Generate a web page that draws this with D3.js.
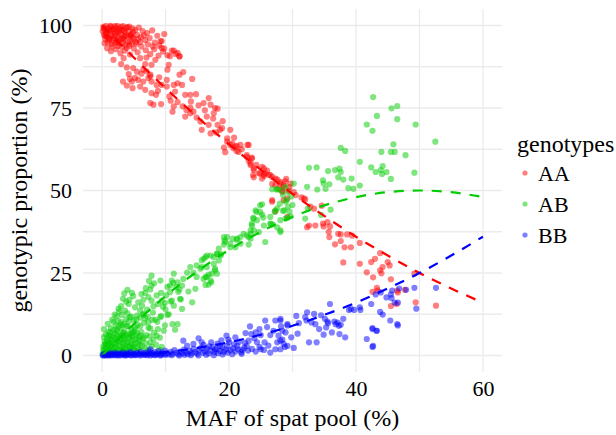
<!DOCTYPE html>
<html>
<head>
<meta charset="utf-8">
<script src="https://cdn.jsdelivr.net/npm/d3@7"></script>
<style>
  body { margin: 0; background: #fff; }
</style>
</head>
<body>
<div id="chart"></div>
<script>
// observed genotype proportions per sample: [MAF of spat pool (%), proportion (%)]
const aaPoints = [
  [0.2,99.6],[0.4,98.8],[0.6,99.9],[0.8,97.9],[1.0,99.2],[1.2,98.4],[1.4,99.7],[1.6,96.9],[1.8,98.9],[2.0,97.6],[2.2,99.4],[2.4,98.1],[2.6,96.4],[2.8,99.0],[3.0,97.3],[3.2,98.6],[3.4,95.8],[3.6,97.9],[3.8,99.3],[4.0,96.7],[4.2,98.2],[4.4,95.2],[4.6,97.4],[4.8,99.1],[5.0,96.0],
  [0.3,97.2],[0.5,95.9],[0.7,96.6],[0.9,94.8],[1.1,95.6],[1.3,97.0],[1.5,94.3],[1.7,95.4],[1.9,96.1],[2.1,94.7],[2.3,95.5],[2.5,93.8],[2.7,94.6],[2.9,95.9],[3.1,93.5],[3.3,94.9],[3.5,96.6],[3.7,94.1],[3.9,93.2],[4.1,95.0],[4.3,93.9],[4.5,96.8],[4.7,94.4],[4.9,98.0],
  [0.1,98.3],[0.6,97.5],[1.0,96.3],[1.5,98.7],[2.0,99.8],[2.6,97.8],[3.0,99.6],[3.5,98.4],[4.0,99.5],[4.5,97.1],[5.2,98.6],[5.5,97.2],[5.8,99.4],[6.1,96.5],[6.4,98.3],[6.8,95.6],[7.1,97.7],[7.5,96.2],[7.9,98.5],[8.3,94.8],[8.7,96.9],[9.0,93.9],[9.4,95.3],[9.8,97.4],
  [0.3,99.1],[0.9,98.6],[1.3,99.9],[1.9,98.3],[2.4,99.9],[2.7,98.5],[3.3,99.8],[3.7,96.9],[4.3,99.7],[4.8,96.3],[5.3,95.0],[5.7,95.9],[0.5,96.9],[1.2,96.0],[2.1,96.9],[3.2,96.0],[0.4,94.6],[1.6,93.6],[2.4,95.0],[6.6,97.0],
  [0.8,93.1],[1.4,92.2],[2.2,92.8],[2.9,91.6],[3.6,92.4],[4.4,91.2],[5.0,93.0],[5.6,91.9],[6.2,93.6],[6.9,92.5],[7.6,91.3],[8.2,92.8],[8.9,90.9],[9.6,92.1],[10.3,91.0],[11.0,92.4],[11.6,91.4],[12.2,90.6],
  [1.8,89.6],[3.0,88.3],[3.4,90.1],[3.9,87.3],[4.9,87.1],[6.0,90.1],[6.5,86.6],[6.8,88.3],[7.0,90.3],[7.8,88.1],[8.4,89.6],[9.2,95.2],[9.4,93.2],[9.8,93.0],[10.5,88.1],[10.3,86.6],[10.7,90.7],[11.3,92.4],[11.9,91.7],[12.2,90.7],[5.4,94.5],[6.0,95.0],[7.2,94.3],[8.0,93.7],
  [4.2,85.3],[4.4,83.8],[5.2,84.1],[4.7,83.0],[5.7,83.5],[3.3,83.0],[3.9,81.8],[4.8,81.0],[6.5,83.0],[6.0,81.5],[6.8,80.5],[7.0,86.1],[7.6,85.1],[7.3,84.1],[7.6,84.6],[7.8,83.0],[8.6,82.0],[9.4,82.0],[10.2,83.5],[10.2,81.5],[11.3,82.0],[11.9,82.5],[12.6,82.0],[12.8,85.9],[12.2,85.1],[14.2,83.8],
  [7.8,79.5],[8.5,79.0],[7.6,76.5],[8.1,76.0],[9.3,76.2],[10.6,78.5],[10.8,77.2],[11.3,75.5],[11.9,76.8],[12.7,75.5],[13.1,79.0],[13.9,79.0],[14.8,79.2],[13.3,74.4],[13.9,73.4],[13.1,72.4],[14.4,73.9],[14.9,72.1],[13.9,75.1],[11.1,73.9],[15.5,70.9],[16.0,76.5],[16.8,78.0],[17.1,76.0],[17.8,75.0],[18.2,74.8],[17.6,73.4],[16.5,72.4],[16.8,69.9],[15.7,68.4],[17.1,67.3],[18.0,67.6],[18.6,68.4],[18.2,69.9],[18.9,68.9],[20.2,68.4],[19.7,65.8],[20.5,64.3],[21.0,63.3],[21.5,61.7],[21.8,63.8],[22.9,63.8],[19.2,63.0],[19.4,61.6],[22.8,60.2],[23.6,59.7],[23.4,58.2],[23.9,56.7],[23.8,54.7],[24.7,55.2],[25.5,56.7],[25.5,54.9],[25.2,53.6],[26.5,54.7],[27.3,53.6],[28.1,52.6],
  [5.5,86.0],[6.2,85.4],[9.0,84.3],[8.8,80.2],[11.5,80.0],[14.0,77.0],[15.2,75.8],[16.2,74.3],[19.0,71.0],[17.5,71.8],[20.8,66.0],[22.0,62.5],[24.3,57.8],[26.0,56.0],[26.8,52.0],
  [19.7,64.8],[20.2,63.8],[21.2,63.5],[23.1,63.8],[20.7,62.8],[21.2,62.0],[22.8,60.7],[23.6,60.0],[23.1,59.0],[23.4,57.7],[23.9,56.2],[25.2,57.2],[25.7,55.2],[24.9,55.2],[26.3,54.7],[26.8,54.1],[23.9,54.0],[25.5,54.4],[27.6,53.3],[28.1,52.1],[27.8,50.6],[28.6,51.6],[29.7,52.1],[27.3,51.6],[29.4,49.9],[28.4,49.9],[26.8,46.6],[30.5,48.6],[31.4,47.9],[32.0,47.3],[28.6,47.1],[32.8,45.1],
  [26.8,47.1],[29.2,47.6],[28.4,49.6],[29.2,42.0],[27.3,43.7],[28.6,51.1],[28.9,52.8],[29.5,51.0],[29.0,53.5],
  [30.2,49.5],[31.8,47.6],[34.6,45.4],[33.4,44.5],[32.3,38.9],[32.6,39.4],[33.6,39.4],[34.8,40.0],[34.9,39.1],[35.5,40.4],[35.9,39.1],[35.7,37.5],[35.8,35.9],[37.2,36.9],[37.6,36.7],[38.6,36.7],[39.4,36.3],[37.6,34.7],[36.7,33.7],[38.2,32.8],[39.2,32.8],[40.6,34.1],[38.0,28.2],[40.6,27.8],[41.7,25.2],[42.4,28.3],[43.0,29.3],[43.8,31.0],[44.2,26.8],[43.8,25.8],[45.0,28.3],[45.3,27.3],[44.0,24.9],[42.7,23.7],[45.5,23.1],[46.5,19.7],[43.4,19.7],[43.3,20.5],[42.6,19.3],[46.6,19.1],[49.2,24.8],[49.4,16.1],[52.6,15.1],[45.5,15.0],[46.4,15.6],[47.7,19.9]
];

const abPoints = [
  [0.1,0.6],[0.3,1.4],[0.5,2.3],[0.7,0.9],[0.9,3.1],[1.1,1.8],[1.3,4.0],[1.5,2.6],[1.7,0.8],[1.9,3.6],[2.1,5.1],[2.3,1.5],[2.5,4.4],[2.7,2.9],[2.9,6.0],[3.1,1.2],[3.3,3.8],[3.5,5.4],[3.7,2.2],[3.9,6.6],[4.1,4.1],[4.3,1.9],[4.5,5.8],[4.7,3.3],[4.9,7.2],[5.1,2.7],[5.3,5.0],[5.5,6.9],[5.7,3.9],[5.9,1.6],
  [0.2,2.8],[0.4,4.2],[0.6,3.6],[0.8,5.3],[1.0,1.1],[1.2,2.9],[1.4,5.9],[1.6,4.6],[1.8,2.1],[2.0,6.6],[2.2,3.4],[2.4,7.4],[2.6,0.7],[2.8,4.0],[3.0,8.2],[3.2,2.6],[3.4,7.0],[3.6,4.8],[3.8,1.0],[4.0,8.9],[4.2,3.0],[4.4,6.4],[4.6,8.0],[4.8,2.4],[5.0,4.6],[5.2,8.6],[5.4,1.3],[5.6,9.3],[5.8,5.6],[6.0,3.2],
  [0.2,1.9],[0.4,0.5],[0.5,3.4],[0.7,2.0],[0.8,4.4],[1.0,3.8],[1.2,0.6],[1.3,5.0],[1.5,1.5],[1.6,3.2],[1.8,5.7],[2.0,1.0],[2.1,2.6],[2.3,4.6],[2.4,6.1],[2.6,2.0],[2.8,5.5],[2.9,1.6],[3.1,4.7],[3.2,6.3],[3.4,2.0],[3.5,3.0],[3.7,6.0],[3.9,3.7],[4.0,1.4],[4.2,5.3],[4.4,2.6],[4.6,4.5],[4.8,6.0],[5.0,1.7],[5.2,3.6],[5.4,6.2],[5.6,2.3],[5.9,4.5],[6.1,6.0],[6.3,2.9],[6.6,5.4],[6.9,3.7],[7.2,1.6],[7.5,5.8],[7.8,2.8],[8.1,4.9],[8.6,6.0],[9.0,1.8],[0.3,8.0],[1.1,6.0],[2.5,10.5],[4.0,12.8],[5.4,10.9],[6.0,11.5],
  [0.3,5.6],[0.6,6.4],[1.0,7.1],[1.4,8.3],[1.8,7.7],[2.2,9.2],[2.6,8.8],[3.0,10.1],[3.4,9.6],[3.8,11.0],[4.2,10.3],[4.6,11.8],[5.0,10.6],[6.2,7.1],[6.4,4.9],[6.6,9.9],[6.8,2.1],[7.0,6.2],[7.3,8.4],[7.6,4.0],[7.9,10.8],[8.2,6.9],[8.5,3.3],[8.8,8.0],[9.1,5.4],[9.4,2.6],[9.7,7.5],[6.5,12.6],[7.2,11.7],[8.0,13.0],[8.7,10.2],[9.3,12.0],[0.9,9.6],[1.6,10.9],[2.0,12.4],[2.7,13.3],
  [7.8,24.2],[9.2,22.7],[7.8,21.2],[7.6,20.0],[6.8,19.0],[7.3,17.7],[6.5,16.9],[7.8,16.6],[8.6,18.2],[9.3,19.0],[9.4,16.6],[8.1,14.9],[7.1,13.9],[6.3,15.1],[4.7,19.0],[4.9,18.0],[4.3,16.9],[3.8,16.3],[3.3,17.2],[4.2,15.6],[5.2,14.6],[5.7,16.1],[6.0,13.6],[6.5,12.3],[3.6,13.6],[3.1,12.3],[4.4,11.6],[5.5,12.1],[6.8,11.3],[7.3,10.0],[8.4,10.9],[9.2,11.6],[9.9,9.1],[11.1,9.5],[11.9,9.5],[11.5,7.8],[7.6,8.2],[6.0,8.8],[5.2,7.8],[3.9,8.8],[3.1,9.2],[1.8,10.2],[2.3,7.8],[3.4,7.0],[4.7,6.8],[1.3,7.0],
  [3.5,18.8],[4.0,19.9],[3.0,15.0],[2.6,14.2],[2.3,11.9],[6.2,18.6],[6.9,20.4],[7.4,22.6],[8.2,21.9],[10.3,20.8],[11.2,22.0],[12.0,19.3],[12.4,17.0],[10.8,16.4],[10.0,14.0],[10.5,12.5],[9.6,14.8],[8.8,15.6],
  [13.4,25.1],[12.8,23.2],[12.6,21.2],[11.9,22.2],[11.3,24.8],[11.0,22.7],[10.7,21.2],[11.7,20.7],[12.2,20.0],[10.7,19.2],[10.1,18.2],[9.9,15.9],[11.0,16.6],[11.3,15.1],[12.3,17.2],[14.2,16.1],[14.7,20.2],[13.6,19.4],[12.6,14.1],[10.3,12.3],
  [18.1,30.8],[18.7,30.3],[18.4,28.8],[17.1,30.3],[16.3,29.8],[15.7,28.8],[14.9,27.3],[15.5,26.3],[13.9,26.8],[14.4,25.1],[14.9,23.8],[16.3,23.8],[16.8,24.5],[17.8,25.8],[18.1,24.8],[16.3,21.4],[17.2,22.2],
  [23.6,39.4],[23.4,37.9],[22.8,36.4],[23.4,35.4],[23.1,33.6],[21.8,35.9],[21.3,35.4],[19.7,35.9],[19.4,34.4],[20.2,32.8],[19.2,33.6],[25.7,34.4],
  [26.8,50.4],[27.6,50.4],[28.0,46.0],[28.7,44.0],[27.3,44.0],[29.2,41.7],[28.1,37.4],[26.9,39.7],[26.5,40.0],[25.5,39.4],[25.2,42.7],[24.3,43.5],[23.8,41.7],[24.9,45.5],[24.2,44.0],
  [28.9,51.1],[28.1,50.1],[27.5,50.3],[29.3,49.6],[28.5,48.6],[29.1,47.1],[28.5,43.8],[27.2,43.5],[27.6,44.6],[29.3,45.1],[29.7,42.2],[28.9,41.5],[28.1,41.0],[28.1,37.9],[27.6,38.8],[26.6,39.8],[26.5,42.0],[25.2,45.8],[24.9,43.5],[25.4,41.8],[23.9,41.5],[24.4,41.0],[23.6,40.0],[23.9,37.9],[24.7,37.4],[23.4,36.9],[23.1,35.9],[22.3,36.9],[21.8,33.9],[21.2,35.1],[20.6,35.4],[21.0,32.8],[20.2,33.9],[19.3,34.9],[19.2,35.9],[18.4,32.4],[18.7,30.8],[18.1,30.8],[17.6,29.8],[16.5,30.3],[16.0,29.3],[15.7,26.8],[16.5,26.8],[17.6,27.8],[17.8,26.3],[17.3,24.8],[16.5,23.8],[17.1,22.7],[16.0,23.2],[16.8,21.5],
  [42.7,78.3],[45.6,74.9],[46.5,75.6],[43.3,72.6],[46.5,71.6],[41.7,70.0],[49.4,70.0],[42.6,68.1],[52.5,64.8],[45.9,64.0],[37.6,62.9],[38.3,62.0],[44.0,61.7],[45.5,61.7],[46.1,61.7],[47.8,60.7],[40.6,58.7],[42.4,57.0],[44.2,57.4],[43.1,55.6],[43.9,56.2],[44.8,55.6],[44.1,55.0],[45.5,53.5],[49.2,55.4],[32.6,56.9],[33.8,57.0],[35.6,55.9],[36.7,56.2],[37.4,56.6],[37.6,55.6],[37.2,54.0],[38.0,53.3],[39.3,53.6],[34.8,53.1],[34.9,52.1],[35.8,51.9],[35.2,50.5],[33.9,50.3],[38.8,50.7],[39.6,50.5],[40.6,51.5],[32.3,51.1],[30.2,52.1],[36.0,44.2],[34.5,42.6],[32.4,44.5],[32.0,41.5],
  [29.8,48.2],[30.0,45.6],[28.9,46.7],[29.5,43.6]
];

const bbPoints = [
  [0.1,0.1],[0.3,0.4],[0.5,0.2],[0.7,0.6],[0.9,0.1],[1.1,0.3],[1.3,0.7],[1.5,0.2],[1.7,0.5],[1.9,0.1],[2.1,0.8],[2.3,0.3],[2.5,0.5],[2.7,0.1],[2.9,0.6],[3.1,0.3],[3.3,0.9],[3.5,0.2],[3.7,0.5],[3.9,0.1],[4.1,0.7],[4.3,0.3],[4.5,1.0],[4.7,0.2],[4.9,0.6],[5.1,0.4],[5.3,0.1],[5.5,0.8],[5.7,0.3],[5.9,0.5],[6.1,1.1],[6.3,0.2],[6.5,0.6],[6.7,0.3],[6.9,0.9],[7.1,0.1],[7.3,0.5],[7.5,1.2],[7.7,0.4],[7.9,0.7],[8.1,0.2],[8.3,1.0],[8.5,0.5],[8.7,0.3],[8.9,1.3],[9.1,0.6],[9.3,0.2],[9.5,0.9],[9.7,0.4],[9.9,1.5],
  [10.2,0.7],[10.5,0.3],[10.8,1.1],[11.1,0.5],[11.4,1.6],[11.7,0.8],[12.0,0.3],[12.3,1.2],[12.6,0.6],[12.9,1.8],[13.2,0.9],[13.5,0.4],[13.8,1.4],[14.1,0.7],[14.4,2.0],[14.7,1.0],[15.0,0.5],[15.3,1.6],[15.6,2.3],[15.9,0.8],[16.2,1.3],[16.5,2.1],[16.8,0.6],[17.1,1.5],[17.4,2.6],[17.7,1.0],[18.0,1.9],[18.3,0.7],[18.6,1.4],[18.9,2.4],[19.2,1.1],[19.5,1.8],[19.8,0.9],[20.2,1.6],[20.6,2.2],[21.0,1.2],[21.4,1.9],[21.9,1.0],[22.4,2.3],[23.0,1.5],[23.6,2.0],[24.2,1.2],[24.8,2.6],[25.5,1.7],
  [0.2,0.0],[0.6,0.0],[1.0,0.1],[1.4,0.0],[2.0,0.2],[2.4,0.0],[3.0,0.1],[3.6,0.0],[4.0,0.3],[4.6,0.0],[5.2,0.2],[6.0,0.0],[6.8,0.2],[7.6,0.0],[8.4,0.1],[9.2,0.0],[10.0,0.2],[11.0,0.1],[12.2,0.0],[13.0,0.2],[14.0,0.1],[15.2,0.0],[16.4,0.2],[17.6,0.1],[19.0,0.3],[20.5,0.4],[22.0,0.5],
  [7.6,1.9],[12.8,4.5],[13.4,2.9],[14.4,3.5],[15.2,5.2],[15.7,4.0],[17.2,4.0],[17.8,1.9],[18.6,2.9],[19.6,6.0],[19.9,4.8],[19.7,2.9],[21.3,2.9],[22.1,1.7],[22.8,2.9],[23.1,4.5],[23.5,6.5],[23.3,8.8],[24.2,7.0],[25.0,6.2],[24.4,4.0],[25.0,1.9],[25.7,10.6],[25.6,4.0],[26.5,6.2],[27.0,7.5],[27.3,10.6],[28.1,11.1],[28.2,8.8],[29.2,9.5],[28.9,7.0],[28.4,4.8],[27.6,4.0],[28.1,1.9],[29.2,2.9],[27.3,1.9],[26.5,0.9],
  [16.0,3.2],[16.9,2.8],[18.2,3.6],[20.8,3.4],[21.6,4.2],[22.5,3.8],[20.0,4.0],[18.8,4.6],[21.0,5.5],[24.0,5.2],[22.6,6.8],[24.8,8.0],[26.0,8.6],[27.8,6.0],[26.2,3.0],[29.8,5.5],[30.8,6.6],[31.0,9.8],[30.6,12.0],[33.0,10.0],[34.2,8.0],[36.2,7.0],
  [49.2,20.5],[52.6,20.5],[47.9,19.9],[46.8,20.3],[45.7,19.7],[45.5,18.5],[44.8,17.6],[45.6,17.4],[46.1,16.0],[46.6,16.0],[43.9,19.1],[43.1,18.5],[42.4,15.6],[43.8,13.2],[44.2,12.4],[45.4,10.6],[46.5,9.5],[46.6,9.1],[42.6,8.3],[43.2,7.5],[41.7,5.0],[42.6,2.6],[49.5,14.2],[35.9,15.6],[39.2,14.1],[40.6,14.6],[40.7,13.8],[38.0,11.1],[37.1,10.0],[36.6,10.3],[35.5,10.3],[35.1,11.1],[34.5,12.2],[33.4,12.6],[32.3,13.1],[32.0,11.6],[32.2,10.6],[33.6,9.5],[35.3,8.5],[35.6,9.8],[36.8,9.5],[37.3,9.0],[37.6,9.3],[37.4,6.5],[38.3,5.5],[34.9,6.3],[33.8,4.0],[32.6,4.0],[30.2,2.3],[28.8,2.6],[28.6,3.5],[28.1,4.5],[28.4,7.5],[29.2,9.1],[28.1,10.6],
  [38.9,13.8],[39.7,13.8],[42.7,2.9],[42.6,8.0],[43.3,7.5]
];

// expected proportions (dashed curves), read at MAF 0, 5, ..., 60
const lineMaf    = [0, 5, 10, 15, 20, 25, 30, 35, 40, 45, 50, 55, 60];
const aaExpected = [100, 90.3, 81, 72.3, 64, 56.3, 49, 42.3, 36, 30.3, 25, 20.3, 16];
const abExpected = [0, 9.5, 18, 25.5, 32, 37.5, 42, 45.5, 48, 49.5, 50, 49.5, 48];
const bbExpected = [0, 0.3, 1, 2.3, 4, 6.3, 9, 12.3, 16, 20.3, 25, 30.3, 36];

const genotypes = ["AA", "AB", "BB"];
const colors = ["#FF0000", "#00CD00", "#0000FF"];

const xTicks = [0, 20, 40, 60];
const xMinor = [10, 30, 50];
const yTicks = [0, 25, 50, 75, 100];
const yMinor = [12.5, 37.5, 62.5, 87.5];

const width = 616, height = 435;
const panel = {left: 83, right: 502, top: 9, bottom: 372};
const serif = "'Liberation Serif'";

const svg = d3.select("#chart").append("svg")
  .attr("width", width)
  .attr("height", height);

// ggplot-style 5% expansion
const expand = (ext) => {
  const pad = (ext[1] - ext[0]) * 0.05;
  return [ext[0] - pad, ext[1] + pad];
};
const xScale = d3.scaleLinear()
  .domain(expand([0, d3.max(lineMaf)]))
  .range([panel.left, panel.right]);
const yScale = d3.scaleLinear()
  .domain(expand([0, 100]))
  .range([panel.bottom, panel.top]);

// grid
const grid = svg.append("g").attr("stroke", "#ebebeb").attr("stroke-width", 1.3);
grid.selectAll(".vx")
  .data(xTicks.concat(xMinor))
  .enter().append("line")
  .attr("x1", d => xScale(d)).attr("x2", d => xScale(d))
  .attr("y1", panel.top).attr("y2", panel.bottom);
grid.selectAll(".hy")
  .data(yTicks.concat(yMinor))
  .enter().append("line")
  .attr("y1", d => yScale(d)).attr("y2", d => yScale(d))
  .attr("x1", panel.left).attr("x2", panel.right);

// points
const groups = [aaPoints, abPoints, bbPoints];
groups.forEach((pts, i) => {
  svg.append("g")
    .selectAll("circle")
    .data(pts)
    .enter().append("circle")
    .attr("cx", d => xScale(d[0]))
    .attr("cy", d => yScale(d[1]))
    .attr("r", 3.1)
    .attr("fill", colors[i])
    .attr("fill-opacity", 0.5);
});

// expected curves
const expected = [aaExpected, abExpected, bbExpected];
const line = d3.line()
  .x((d, i) => xScale(lineMaf[i]))
  .y(d => yScale(d))
  .curve(d3.curveMonotoneX);
expected.forEach((vals, i) => {
  svg.append("path")
    .attr("d", line(vals))
    .attr("fill", "none")
    .attr("stroke", colors[i])
    .attr("stroke-width", 2.2)
    .attr("stroke-dasharray", "10,9");
});

// axes
const xAxis = d3.axisBottom(xScale).tickValues(xTicks).tickSize(0).tickPadding(8);
const gx = svg.append("g")
  .attr("transform", "translate(0," + panel.bottom + ")")
  .call(xAxis);
gx.select(".domain").remove();
gx.selectAll("text")
  .attr("font-family", serif)
  .attr("font-size", 22)
  .attr("fill", "#000");

const yAxis = d3.axisLeft(yScale).tickValues(yTicks).tickSize(0).tickPadding(11);
const gy = svg.append("g")
  .attr("transform", "translate(" + panel.left + ",0)")
  .call(yAxis);
gy.select(".domain").remove();
gy.selectAll("text")
  .attr("font-family", serif)
  .attr("font-size", 22)
  .attr("fill", "#000");

// axis titles
svg.append("text")
  .attr("x", (panel.left + panel.right) / 2)
  .attr("y", 426)
  .attr("text-anchor", "middle")
  .attr("font-family", serif)
  .attr("font-size", 24)
  .text("MAF of spat pool (%)");

svg.append("text")
  .attr("transform", "translate(27," + (panel.top + panel.bottom) / 2 + ") rotate(-90)")
  .attr("text-anchor", "middle")
  .attr("font-family", serif)
  .attr("font-size", 24)
  .text("genotypic proportion (%)");

// legend
const legend = svg.append("g").attr("transform", "translate(517,0)");
legend.append("text")
  .attr("x", 0)
  .attr("y", 152)
  .attr("font-family", serif)
  .attr("font-size", 24)
  .text("genotypes");
const item = legend.selectAll(".item")
  .data(genotypes)
  .enter().append("g")
  .attr("transform", (d, i) => "translate(0," + (173 + i * 31) + ")");
item.append("circle")
  .attr("cx", 8).attr("cy", 0).attr("r", 2.6)
  .attr("fill", (d, i) => colors[i])
  .attr("fill-opacity", 0.5);
item.append("text")
  .attr("x", 21)
  .attr("dy", "0.35em")
  .attr("font-family", serif)
  .attr("font-size", 22)
  .text(d => d);
</script>
</body>
</html>
